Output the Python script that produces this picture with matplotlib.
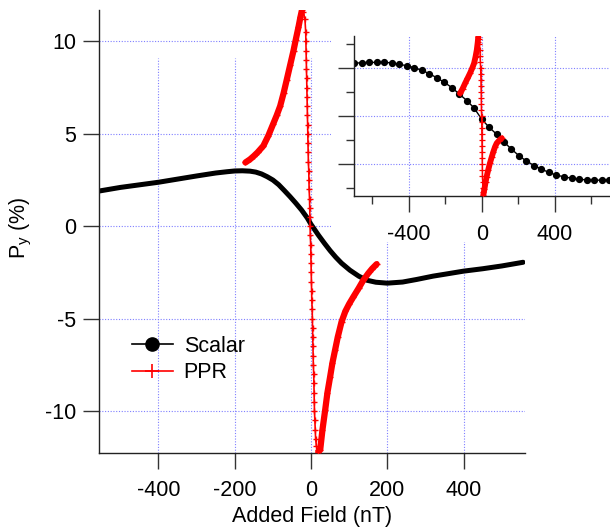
import matplotlib
matplotlib.use("Agg")
import matplotlib.pyplot as plt
from matplotlib.lines import Line2D
from matplotlib.patches import Rectangle

plt.rcParams['font.family'] = ['Liberation Sans', 'DejaVu Sans']
plt.rcParams['mathtext.fontset'] = 'custom'
plt.rcParams['mathtext.rm'] = 'Liberation Sans'
plt.rcParams['mathtext.it'] = 'Liberation Sans:italic'
plt.rcParams['axes.unicode_minus'] = False

# ---------------- data ----------------
# main panel: Scalar
scalar_x = [-557, -500, -450, -400, -350, -300, -250, -220, -200, -180, -160, -145,
            -130, -115, -100, -85, -70, -55, -40, -25, -10, 0, 10, 20, 35, 50,
            65, 80, 102, 125, 146, 170, 200, 240, 277, 320, 350, 400, 450, 500, 556]
scalar_y = [1.9, 2.1, 2.24, 2.38, 2.55, 2.72, 2.88, 2.95, 2.99, 3.0, 2.98, 2.93,
            2.83, 2.68, 2.5, 2.25, 1.93, 1.6, 1.25, 0.88, 0.45, 0.1, -0.2, -0.5,
            -0.92, -1.32, -1.68, -2.0, -2.38, -2.7, -2.92, -3.03, -3.08, -3.02,
            -2.88, -2.7, -2.6, -2.43, -2.3, -2.15, -1.95]

# main panel: PPR (rising branch, fast drop, recovery branch)
ppr_rise_x = [-172, -160, -150, -140, -125, -112, -99, -90, -81, -72, -64, -55,
              -46, -40, -33, -28, -24]
ppr_rise_y = [3.45, 3.62, 3.8, 4.0, 4.35, 4.9, 5.55, 6.0, 6.5, 7.2, 7.9, 8.7,
              9.5, 10.1, 10.77, 11.3, 11.68]
ppr_drop_x = [-20, -16, -14, -13.5, -13, -12.5, -12, -11.5, -11, -10.5, -10, -9.5,
              -9, -8.5, -8, -7.5, -7, -6, -5.5, -5, -4, -3.5, -3, -2.5, -2, -1,
              -0.5, 0, 0.5, 1, 1.5, 2, 3, 3.5, 4, 4.5, 5, 5.5, 6, 7, 7.5, 8, 8.5,
              9, 10, 11, 12, 14, 17]
ppr_drop_y = [11.6, 11.2, 10.5, 10.0, 9.5, 9.0, 8.5, 8.0, 7.5, 7.0, 6.5, 6.0,
              5.5, 5.0, 4.5, 4.0, 3.5, 3.0, 2.5, 2.0, 1.5, 1.0, 0.5, 0.0, -0.5,
              -1.0, -1.5, -2.0, -2.5, -3.0, -3.5, -4.0, -4.5, -5.0, -5.5, -6.0,
              -6.5, -7.0, -7.5, -8.0, -8.5, -9.0, -9.5, -10.0, -10.5, -11.0,
              -11.5, -11.9, -12.1]
ppr_rec_x = [19, 24, 30, 37, 43, 50, 56, 63, 70, 80, 90, 100, 111, 125, 137, 150,
             160, 172]
ppr_rec_y = [-12.2, -12.1, -11.0, -9.95, -9.0, -8.15, -7.4, -6.7, -6.0, -5.17,
             -4.6, -4.2, -3.82, -3.35, -2.92, -2.55, -2.3, -2.05]

# inset: Scalar (arbitrary units)
in_scalar_x = [-698, -658, -616, -575, -534, -492, -451, -411, -369, -329, -287,
               -247, -205, -164, -123, -82, -42, 0, 40, 82, 122, 162, 204, 244,
               287, 327, 369, 409, 451, 493, 533, 575, 615, 658, 698]
in_scalar_y = [2.18, 2.21, 2.22, 2.22, 2.22, 2.20, 2.14, 2.08, 2.0, 1.89, 1.75,
               1.58, 1.39, 1.17, 0.9, 0.63, 0.32, -0.15, -0.48, -0.78, -1.10,
               -1.39, -1.67, -1.89, -2.08, -2.23, -2.37, -2.48, -2.55, -2.61,
               -2.65, -2.68, -2.69, -2.69, -2.68]

# inset: PPR
in_rise_x = [-119, -105, -91, -78, -64, -52, -42, -34, -27, -22, -19]
in_rise_y = [0.93, 1.12, 1.35, 1.55, 1.77, 1.98, 2.18, 2.45, 2.74, 3.05, 3.29]
in_drop_x = [-16, -13, -11, -9, -7.5, -6.5, -5.5, -4.5, -4, -3, -2.5, -2, -1.5,
             -1, -0.5, 0, 0.5, 1, 1.5, 2, 2.5, 3, 3.5, 4, 5, 6, 7.5]
in_drop_y = [3.2, 3.0, 2.75, 2.5, 2.25, 2.0, 1.75, 1.5, 1.25, 1.0, 0.75, 0.5,
             0.25, 0.0, -0.25, -0.5, -0.75, -1.0, -1.25, -1.5, -1.75, -2.0,
             -2.25, -2.5, -2.75, -3.0, -3.2]
in_rec_x = [9, 15, 21, 27, 36, 45, 55, 64, 73, 82, 96, 110]
in_rec_y = [-3.30, -3.05, -2.78, -2.54, -2.25, -1.98, -1.72, -1.5, -1.3, -1.15,
            -1.03, -0.94]

main_xticks = [-400, -200, 0, 200, 400]
main_yticks = [-10, -5, 0, 5, 10]
inset_xticks = [-400, 0, 400]
inset_xminor = [-600, -200, 200, 600]
inset_yticks = [-2, 0, 2]
inset_yminor = [-3, -1, 1, 3]

# ---------------- figure ----------------
W, H = 610, 527
FS = 15.5
fig = plt.figure(figsize=(W / 100, H / 100), dpi=100)
gridc = '#7f7fff'
gls = (0, (1, 1.5))
tickc = '#333333'

ax = fig.add_axes([99 / W, (H - 453) / H, 426 / W, 443 / H])
ax.set_xlim(-556, 561)
ax.set_ylim(-12.27, 11.7)
for yv in main_yticks:
    ax.axhline(yv, color=gridc, lw=0.8, ls=gls, zorder=0)
for xv in main_xticks:
    ax.vlines(xv, -12.27, 9.1, color=gridc, lw=0.8, ls=gls, zorder=0)

ax.plot(scalar_x, scalar_y, color='black', lw=3.6, solid_capstyle='round',
        solid_joinstyle='round', zorder=2)

ppr_x = ppr_rise_x + ppr_drop_x + ppr_rec_x
ppr_y = ppr_rise_y + ppr_drop_y + ppr_rec_y
ax.plot(ppr_x, ppr_y, color='red', lw=1.2, marker='+', ms=5, mew=1, zorder=3)
ax.plot(ppr_rise_x, ppr_rise_y, color='red', lw=4.5, solid_capstyle='round',
        solid_joinstyle='round', zorder=3)
ax.plot(ppr_rec_x, ppr_rec_y, color='red', lw=4.5, solid_capstyle='round',
        solid_joinstyle='round', zorder=3)

for s in ['top', 'right']:
    ax.spines[s].set_visible(False)
for s in ['left', 'bottom']:
    ax.spines[s].set_linewidth(1.0)
    ax.spines[s].set_color('#222222')
ax.set_xticks(main_xticks)
ax.set_yticks(main_yticks)
ax.tick_params(axis='both', direction='out', length=11.3, width=1.0, color=tickc,
               labelsize=FS)
ax.tick_params(axis='x', pad=8.5)
ax.tick_params(axis='y', pad=5)

ax.set_xlabel('Added Field (nT)', fontsize=FS)
ax.xaxis.set_label_coords(0.5, -0.12)
fig.text(21 / W, 1 - 228 / H, r'P$_\mathrm{y}$ (%)', rotation=90, ha='center',
         va='center', fontsize=FS)

handles = [Line2D([], [], color='black', lw=1.2, marker='o', ms=9.5),
           Line2D([], [], color='red', lw=1.2, marker='+', ms=10, mew=1.2)]
fig.legend(handles, ['Scalar', 'PPR'], loc='upper left',
           bbox_to_anchor=(132 / W, 1 - 336 / H), bbox_transform=fig.transFigure,
           frameon=False, fontsize=FS, handlelength=1.9, handletextpad=0.5,
           labelspacing=0.25, borderpad=0, borderaxespad=0)

# white area behind inset
fig.add_artist(Rectangle((331 / W, (H - 242) / H), (W - 331) / W, 242 / H,
                         transform=fig.transFigure, facecolor='white',
                         edgecolor='none', zorder=1))

# ---------------- inset ----------------
ax2 = fig.add_axes([354 / W, (H - 196) / H, (W - 354) / W, 160 / H])
ax2.set_zorder(2)
ax2.patch.set_visible(False)
ax2.set_xlim(-700, 703)
ax2.set_ylim(-3.35, 3.32)
for yv in inset_yticks:
    ax2.axhline(yv, color=gridc, lw=0.8, ls=gls, zorder=0)
for xv in inset_xticks:
    ax2.axvline(xv, color=gridc, lw=0.8, ls=gls, zorder=0)

ax2.plot(in_scalar_x, in_scalar_y, color='black', lw=1.0, marker='o', ms=4.2,
         zorder=2)
in_x = in_rise_x + in_drop_x + in_rec_x
in_y = in_rise_y + in_drop_y + in_rec_y
ax2.plot(in_x, in_y, color='red', lw=1.0, marker='+', ms=4.5, mew=0.9, zorder=3)
ax2.plot(in_rise_x, in_rise_y, color='red', lw=4.2, solid_capstyle='round',
         solid_joinstyle='round', zorder=3)
ax2.plot(in_rec_x, in_rec_y, color='red', lw=4.2, solid_capstyle='round',
         solid_joinstyle='round', zorder=3)

for s in ['top', 'right']:
    ax2.spines[s].set_visible(False)
for s in ['left', 'bottom']:
    ax2.spines[s].set_linewidth(1.0)
    ax2.spines[s].set_color('#222222')
ax2.set_xticks(inset_xticks)
ax2.set_xticks(inset_xminor, minor=True)
ax2.set_yticks(inset_yticks)
ax2.set_yticks(inset_yminor, minor=True)
ax2.set_yticklabels([])
ax2.tick_params(axis='both', which='major', direction='out', length=11.3,
                width=1.0, color=tickc, labelsize=FS)
ax2.tick_params(axis='both', which='minor', direction='out', length=6,
                width=1.0, color=tickc)
ax2.tick_params(axis='x', which='major', pad=8.5)

fig.savefig('out.png', dpi=100)
